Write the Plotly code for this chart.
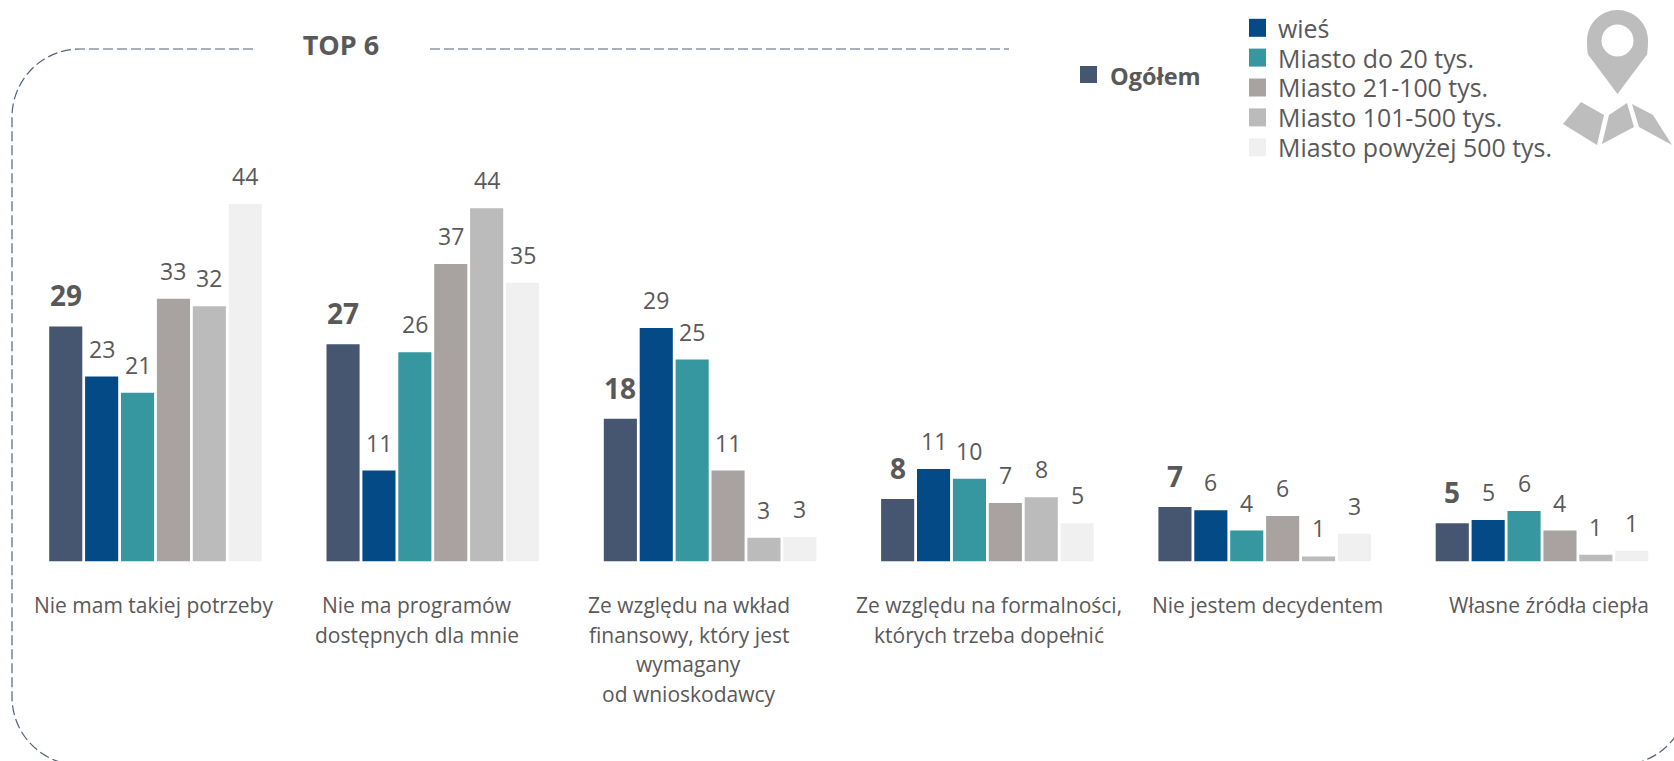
import plotly.graph_objects as go

W, H = 1674, 761

categories = [
    "Nie mam takiej potrzeby",
    "Nie ma programów\ndostępnych dla mnie",
    "Ze względu na wkład\nfinansowy, który jest\nwymagany\nod wnioskodawcy",
    "Ze względu na formalności,\nktórych trzeba dopełnić",
    "Nie jestem decydentem",
    "Własne źródła ciepła",
]
series_names = ["Ogółem", "wieś", "Miasto do 20 tys.", "Miasto 21-100 tys.", "Miasto 101-500 tys.", "Miasto powyżej 500 tys."]

ogolem = [29.0, 26.8, 17.6, 7.7, 6.7, 4.7]
wies = [22.8, 11.2, 28.8, 11.4, 6.3, 5.1]
miasto_20 = [20.8, 25.8, 24.9, 10.2, 3.8, 6.2]
miasto_100 = [32.4, 36.7, 11.2, 7.2, 5.6, 3.8]
miasto_500 = [31.5, 43.6, 2.9, 7.9, 0.6, 0.8]
miasto_500p = [44.1, 34.4, 3.0, 4.7, 3.4, 1.3]

labels_ogolem = [29, 27, 18, 8, 7, 5]
labels_wies = [23, 11, 29, 11, 6, 5]
labels_20 = [21, 26, 25, 10, 4, 6]
labels_100 = [33, 37, 11, 7, 6, 4]
labels_500 = [32, 44, 3, 8, 1, 1]
labels_500p = [44, 35, 3, 5, 3, 1]

all_values = [ogolem, wies, miasto_20, miasto_100, miasto_500, miasto_500p]
all_labels = [labels_ogolem, labels_wies, labels_20, labels_100, labels_500, labels_500p]
colors = ["#465670", "#034A87", "#3797A0", "#A8A3A0", "#BBBBBB", "#F0F0F0"]

TEXT = "#595959"
FONT = "Open Sans"
DASH = "#52637C"

# layout geometry (pixels)
first_center, step, bar_step = 155.5, 277.3, 35.9
baseline, unit = 561.3, 8.10
x_index = list(range(len(categories)))


def px(x):
    return x / W


def py(y):
    return 1 - y / H


def path(points):
    return "M " + " L ".join(f"{px(x):.5f},{py(y):.5f}" for x, y in points) + " Z"


def curve(cmds):
    out = []
    for c, pts in cmds:
        out.append(c + " " + " ".join(f"{px(x):.5f},{py(y):.5f}" for x, y in pts))
    return " ".join(out)


fig = go.Figure()
for name, vals, col in zip(series_names, all_values, colors):
    fig.add_bar(x=x_index, y=vals, name=name, marker=dict(color=col, line=dict(width=0)), showlegend=False)

annotations = []
# value labels
for j, (vals, labs) in enumerate(zip(all_values, all_labels)):
    for i, (v, lab) in enumerate(zip(vals, labs)):
        bold = j == 0
        annotations.append(dict(
            x=i + (j - 2.5) * bar_step / step, y=v, xref="x", yref="y",
            text=f"<b>{lab}</b>" if bold else str(lab), showarrow=False,
            yanchor="bottom", yshift=10 if bold else 10,
            font=dict(family=FONT, size=28 if bold else 23, color=TEXT),
        ))

# category labels, one annotation per line for the wide line spacing
label_centers = [153.2, 417.4, 688.6, 988.6, 1267, 1549]
line_top, line_step = 605, 29.5
for cat, cx in zip(categories, label_centers):
    for k, line in enumerate(cat.split("\n")):
        annotations.append(dict(
            x=px(cx), y=py(line_top + k * line_step), xref="paper", yref="paper",
            text=line, showarrow=False, xanchor="center", yanchor="middle",
            font=dict(family=FONT, size=21, color=TEXT),
        ))

shapes = []
# legend: total
shapes.append(dict(type="rect", xref="paper", yref="paper", x0=px(1080), x1=px(1097), y0=py(66), y1=py(83),
                   fillcolor=colors[0], line=dict(width=0)))
annotations.append(dict(x=px(1108), y=py(76), xref="paper", yref="paper", text="<b>Ogółem</b>", showarrow=False,
                        xanchor="left", yanchor="middle", font=dict(family=FONT, size=23.5, color=TEXT)))
# legend: places
legend_rows = [27.8, 57.6, 87.5, 117.4, 147.3]
for name, col, ry in zip(series_names[1:], colors[1:], legend_rows):
    shapes.append(dict(type="rect", xref="paper", yref="paper", x0=px(1249), x1=px(1266), y0=py(ry - 9), y1=py(ry + 9),
                       fillcolor=col, line=dict(width=0)))
    annotations.append(dict(x=px(1276), y=py(ry), xref="paper", yref="paper", text=name, showarrow=False,
                            xanchor="left", yanchor="middle", font=dict(family=FONT, size=24.9, color=TEXT)))

# dashed frame
K = 68 * 0.4477
frame_left = curve([
    ("M", [(253, 49)]), ("L", [(80, 49)]),
    ("C", [(80 - 68 + K, 49), (12, 117 - 68 + K), (12, 117)]),
    ("L", [(12, 697)]),
    ("C", [(12, 697 + 68 - K), (80 - 68 + K, 765), (80, 765)]),
])
frame_top = curve([("M", [(430, 49)]), ("L", [(1009, 49)])])
frame_br = curve([
    ("M", [(1620, 765)]),
    ("C", [(1620 + 68 - K, 765), (1688, 697 + 68 - K), (1688, 697)]),
])
for p in (frame_left, frame_top, frame_br):
    shapes.append(dict(type="path", xref="paper", yref="paper", path=p,
                       line=dict(color=DASH, width=1.2, dash="10px,4px"), fillcolor="rgba(0,0,0,0)"))

# location pin and map icon
ICON = "#BDBDBD"
cx, cy, r, hr = 1617.5, 40.5, 30.5, 16
pin = curve([
    ("M", [(cx, 94)]),
    ("L", [(cx - r + 1, cy + 14)]),
    ("C", [(cx - r, cy + 8), (cx - r, cy + 2), (cx - r, cy)]),
    ("C", [(cx - r, cy - 0.55 * r), (cx - 0.55 * r, cy - r), (cx, cy - r)]),
    ("C", [(cx + 0.55 * r, cy - r), (cx + r, cy - 0.55 * r), (cx + r, cy)]),
    ("C", [(cx + r, cy + 2), (cx + r, cy + 8), (cx + r - 1, cy + 14)]),
    ("L", [(cx, 94)]),
])
shapes.append(dict(type="path", xref="paper", yref="paper", path=pin + " Z", fillcolor=ICON, line=dict(width=0)))
shapes.append(dict(type="circle", xref="paper", yref="paper", x0=px(cx - hr), x1=px(cx + hr), y0=py(cy - hr), y1=py(cy + hr),
                   fillcolor="white", line=dict(width=0)))
for poly in (
    [(1581, 102), (1604, 115), (1597, 145), (1563, 124)],
    [(1627, 103), (1634, 127), (1602, 144), (1609, 115)],
    [(1632, 104), (1653, 115), (1672, 145), (1639, 127)],
):
    shapes.append(dict(type="path", xref="paper", yref="paper", path=path(poly), fillcolor=ICON, line=dict(width=0)))

fig.update_layout(
    width=W, height=H, margin=dict(l=0, r=0, t=0, b=0, pad=0, autoexpand=False),
    paper_bgcolor="white", plot_bgcolor="white",
    barmode="group", bargap=1 - 6 * bar_step / step, bargroupgap=0.078,
    title=dict(text="<b>TOP 6</b>", x=px(341), y=py(46), xanchor="center", yanchor="middle", xref="paper", yref="paper",
               font=dict(family=FONT, size=27, color=TEXT)),
    xaxis=dict(visible=False, range=[(0 - first_center) / step, (W - first_center) / step]),
    yaxis=dict(visible=False, range=[-(H - baseline) / unit, baseline / unit]),
    annotations=annotations, shapes=shapes, showlegend=False,
)

fig.write_html("out.html", config={"displayModeBar": False},
               post_script="document.body.style.margin='0';document.body.style.overflow='hidden';")
